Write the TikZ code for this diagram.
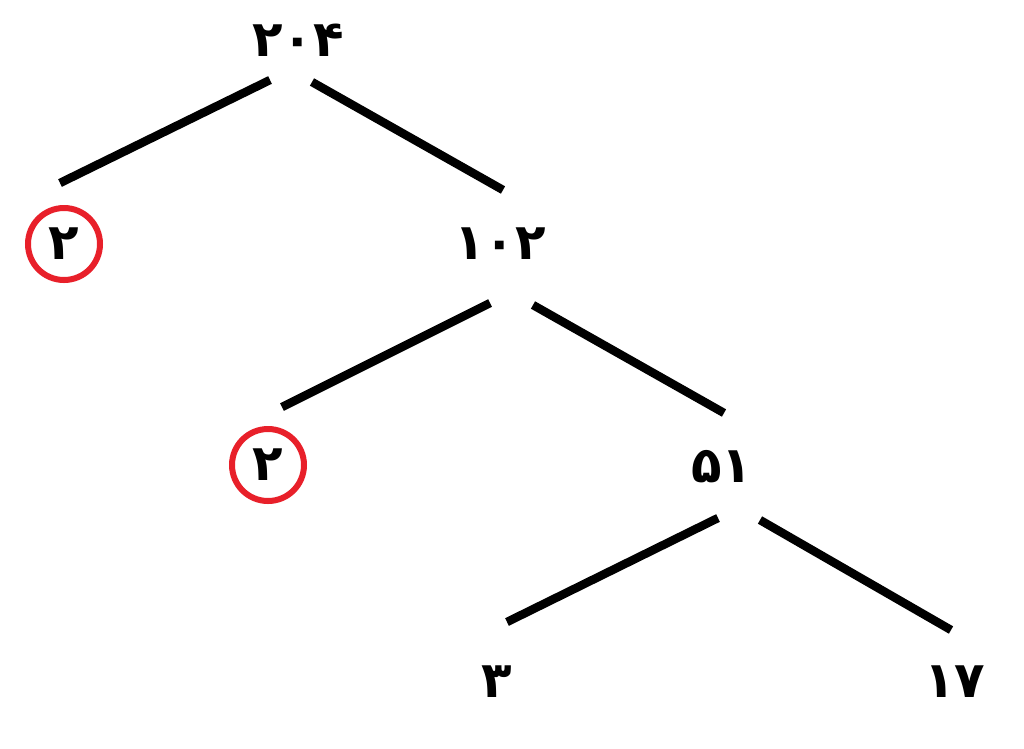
\documentclass[tikz,border=0pt]{standalone}
\usepackage{fontspec}
\newfontfamily\fadigits[Script=Arabic]{DejaVu Sans}
\definecolor{ringred}{RGB}{232,32,42}
\begin{document}
\begin{tikzpicture}[x=1pt,y=-1pt,
  num/.style={font=\fadigits\bfseries\fontsize{50}{56}\selectfont, inner sep=0pt},
  edge/.style={line width=8.5pt, black},
  ring/.style={draw=ringred, line width=6pt, circle, minimum size=72pt, inner sep=0pt}]
\useasboundingbox (0,0) rectangle (1024,748);
\node[num] (n204) at (298,40) {۲۰۴};
\node[num,ring] (n2a) at (64,244) {۲};
\node[num] (n102) at (500,244) {۱۰۲};
\node[num,ring] (n2b) at (268,465) {۲};
\node[num] (n51) at (722,467) {۵۱};
\node[num] (n3) at (497,682) {۳};
\node[num] (n17) at (955,682) {۱۷};
\coordinate (a1) at (270,80); \coordinate (a2) at (60,183);
\coordinate (b1) at (312,82); \coordinate (b2) at (503,190);
\coordinate (c1) at (490,303); \coordinate (c2) at (282,407);
\coordinate (d1) at (533,305); \coordinate (d2) at (724,413);
\coordinate (e1) at (718,518); \coordinate (e2) at (507,622);
\coordinate (f1) at (760,520); \coordinate (f2) at (951,630);
\draw[edge] (a1) -- (a2);
\draw[edge] (b1) -- (b2);
\draw[edge] (c1) -- (c2);
\draw[edge] (d1) -- (d2);
\draw[edge] (e1) -- (e2);
\draw[edge] (f1) -- (f2);
\end{tikzpicture}
\end{document}
